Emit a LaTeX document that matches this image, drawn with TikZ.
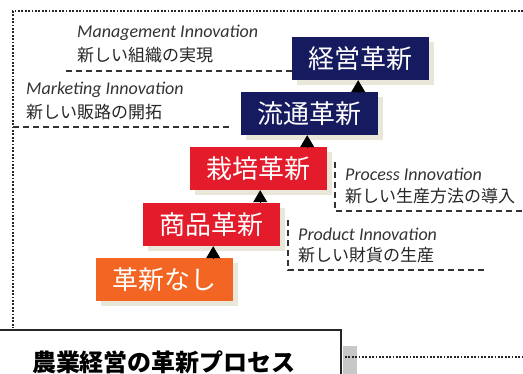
\documentclass[tikz,border=0pt]{standalone}
\usepackage{fontspec}
\setmainfont{Carlito}
\newfontfamily\jp{Noto Sans CJK JP}
\usetikzlibrary{arrows.meta, shadows}
\definecolor{mynavy}{HTML}{161A5E}
\definecolor{myred}{HTML}{E31B2A}
\definecolor{myorange}{HTML}{F26522}
\definecolor{mybeige}{HTML}{E9E7DA}
\colorlet{mytext}{black!80}
\tikzset{
  >={Triangle[length=12pt,width=14pt]},
  box/.style={minimum width=137pt,minimum height=43pt,inner sep=0pt,text=white,
    font=\jp\fontsize{26pt}{30pt}\selectfont,
    general shadow={fill=mybeige,shadow xshift=5pt,shadow yshift=-5pt}},
  box navy/.style={box,fill=mynavy},
  box red/.style={box,fill=myred},
  box orange/.style={box,fill=myorange},
  up arrow/.style={->,thick,black},
  eng/.style={anchor=west,inner sep=0pt,text=mytext,font=\itshape\fontsize{18pt}{21pt}\selectfont},
  jpn/.style={anchor=west,inner sep=0pt,text=black!85,font=\jp\fontsize{17pt}{20pt}\selectfont},
  leader/.style={line width=1.3pt,black!80,dash pattern=on 6pt off 4pt},
  frame/.style={line width=1.8pt,black!85,dash pattern=on 1.8pt off 1.6pt}
}
\begin{document}
\begin{tikzpicture}[x=1pt,y=-1pt]
    \useasboundingbox (0,0) rectangle (523,373);

    % Frame
    \draw[frame] (523,11) -- (13,11) -- (13,328);

    % Steps
    \node[box navy] (keiei) at (360.5,58.5) {経営革新};
    \node[box navy] (ryutsu) at (309.5,113.5) {流通革新};
    \node[box red] (saibai) at (258.5,168.5) {栽培革新};
    \node[box red] (shohin) at (211.5,224.5) {商品革新};
    \node[box orange] (nashi) at (164.5,279.5) {革新なし};

    % Arrows
    \draw[up arrow] ([xshift=-20pt]ryutsu.north east) -- ([xshift=-20pt]ryutsu.north east |- keiei.south);
    \draw[up arrow] ([xshift=-20pt]saibai.north east) -- ([xshift=-20pt]saibai.north east |- ryutsu.south);
    \draw[up arrow] ([xshift=-20pt]shohin.north east) -- ([xshift=-20pt]shohin.north east |- saibai.south);
    \draw[up arrow] ([xshift=-20pt]nashi.north east) -- ([xshift=-20pt]nashi.north east |- shohin.south);

    % Labels
    \node[eng] (mgmt) at (77,33) {Management Innovation};
    \node[jpn] (mgmtjp) at (77,55) {新しい組織の実現};
    \node[eng] (mkt) at (26,90) {Marketing Innovation};
    \node[jpn] (mktjp) at (26,112) {新しい販路の開拓};
    \node[eng] (proc) at (345,174) {Process Innovation};
    \node[jpn] (procjp) at (345,196) {新しい生産方法の導入};
    \node[eng] (prod) at (298,234) {Product Innovation};
    \node[jpn] (prodjp) at (298,255) {新しい財貨の生産};

    % Leader lines
    \coordinate (mgmtL) at (66,71);
    \coordinate (mktL) at (13,127);
    \coordinate (procT) at (335,162);
    \coordinate (procR) at (523,211);
    \coordinate (prodT) at (288,220);
    \coordinate (prodR) at (487,270);
    \draw[leader] (mgmtL) -- (keiei.west |- mgmtL);
    \draw[leader] (mktL) -- ([xshift=-8pt]ryutsu.west |- mktL);
    \draw[leader] (procT) -- (procT |- procR) -- (procR);
    \draw[leader] (prodT) -- (prodT |- prodR) -- (prodR);

    % Title
    \fill[black!22] (343,346) rectangle (357,380);
    \draw[frame,line width=1.5pt] (345,357) -- (523,357);
    \draw[line width=1.2pt,black!85] (-5,330) -- (341,330) -- (341,380);
    \node[font=\jp\bfseries\fontsize{24pt}{28pt}\selectfont] (ttl) at (164,362) {農業経営の革新プロセス};
\end{tikzpicture}
\end{document}
